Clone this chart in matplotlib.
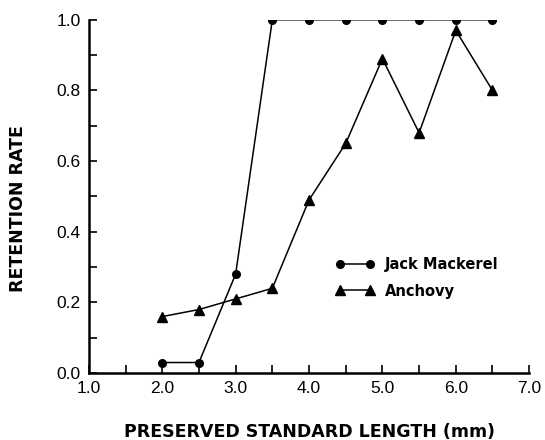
import numpy as np
import matplotlib
matplotlib.use('Agg')
import matplotlib.pyplot as plt
from matplotlib.ticker import MultipleLocator

# ------------------ DATA ------------------

length = [2.0, 2.5, 3.0, 3.5, 4.0, 4.5, 5.0, 5.5, 6.0, 6.5]
jack_mackerel = [0.03, 0.03, 0.28, 1.0, 1.0, 1.0, 1.0, 1.0, 1.0, 1.0]
anchovy = [0.16, 0.18, 0.21, 0.24, 0.49, 0.65, 0.89, 0.68, 0.97, 0.80]

xticks = [1.0, 2.0, 3.0, 4.0, 5.0, 6.0, 7.0]
yticks = [0.0, 0.2, 0.4, 0.6, 0.8, 1.0]

# ------------------ PLOT ------------------

plt.rcParams['font.family'] = ['Liberation Sans', 'DejaVu Sans']

fig = plt.figure(figsize=(5.45, 4.4), dpi=100)
ax = fig.add_axes([0.163, 0.152, 0.808, 0.803])

ax.plot(length, jack_mackerel, color='black', lw=1.1, marker='o', ms=5.5, label='Jack Mackerel')
ax.plot(length, anchovy, color='black', lw=1.1, marker='^', ms=7.5, label='Anchovy')

ax.set_xlim(1.0, 7.0)
ax.set_ylim(0.0, 1.0)
ax.set_xticks(xticks)
ax.set_xticklabels(['{:.1f}'.format(v) for v in xticks])
ax.set_yticks(yticks)
ax.set_yticklabels(['{:.1f}'.format(v) for v in yticks])
ax.xaxis.set_minor_locator(MultipleLocator(0.5))
ax.yaxis.set_minor_locator(MultipleLocator(0.1))
ax.tick_params(which='both', direction='in', length=6, width=1.2, labelsize=12.5, pad=6)

for side in ['top', 'right']:
    ax.spines[side].set_visible(False)
for side in ['left', 'bottom']:
    ax.spines[side].set_linewidth(1.8)

bold = {'family': 'DejaVu Sans', 'weight': 'bold', 'size': 12.5}
ax.set_xlabel('PRESERVED STANDARD LENGTH (mm)', fontdict=bold)
ax.set_ylabel('RETENTION RATE', fontdict=bold)
ax.xaxis.set_label_coords(0.5, -0.142)
ax.yaxis.set_label_coords(-0.14, 0.467)

leg = ax.legend(loc='upper left', bbox_to_anchor=(0.53, 0.366), frameon=False,
                numpoints=2, handlelength=2.66, handletextpad=0.75,
                prop={'family': 'DejaVu Sans', 'weight': 'bold', 'size': 10.5}, labelspacing=0.8)

fig.savefig('out.png', dpi=100)
